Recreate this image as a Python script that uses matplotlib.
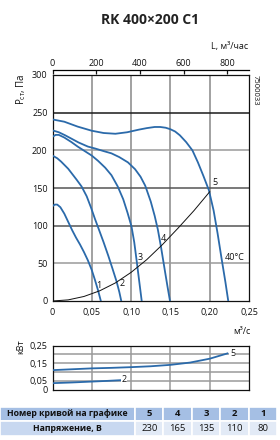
import matplotlib
matplotlib.use('Agg')
import matplotlib.pyplot as plt
from matplotlib.ticker import FixedLocator, FuncFormatter

plt.rcParams['font.family'] = ['Open Sans', 'DejaVu Sans']
plt.rcParams['mathtext.fontset'] = 'custom'
plt.rcParams['mathtext.rm'] = 'Open Sans'

# ---- data (Q in m3/s, P in Pa) ----
q5 = [0, 0.015, 0.032, 0.05, 0.065, 0.08, 0.095, 0.11, 0.12, 0.13, 0.137, 0.144, 0.15, 0.156, 0.162, 0.17, 0.178, 0.185, 0.192, 0.199, 0.205, 0.21, 0.215, 0.22, 0.2236]
p5 = [241, 238, 231.5, 226, 223, 222, 224, 227.5, 229.5, 231, 231, 230, 228, 225, 220, 211, 200, 184, 166, 147, 120, 90, 57, 25, 0]

q4 = [0, 0.008, 0.016, 0.025, 0.033, 0.045, 0.054, 0.065, 0.075, 0.085, 0.096, 0.105, 0.112, 0.118, 0.125, 0.13, 0.134, 0.138, 0.143, 0.1465, 0.1495]
p4 = [226.5, 224, 220, 215, 210.5, 205, 202.5, 199, 196, 191, 184, 175, 165, 153, 132, 113, 95, 72, 40, 18, 0]

q3 = [0, 0.004, 0.008, 0.015, 0.024, 0.032, 0.041, 0.05, 0.058, 0.067, 0.075, 0.083, 0.09, 0.0955, 0.1005, 0.104, 0.107, 0.110, 0.1135]
p3 = [218, 220.5, 220.5, 217, 211, 205, 199, 193, 186, 177, 167, 152, 135, 117, 99, 78, 54, 29, 0]

q2 = [0, 0.006, 0.011, 0.02, 0.0307, 0.037, 0.0435, 0.049, 0.054, 0.059, 0.065, 0.071, 0.076, 0.0815, 0.085, 0.0875]
p2 = [193, 189.5, 185, 175.5, 161, 152, 139, 124, 109, 95, 78, 60, 44, 26, 12, 0]

q1 = [0, 0.003, 0.006, 0.01, 0.015, 0.02, 0.025, 0.03, 0.035, 0.04, 0.045, 0.05, 0.054, 0.058, 0.0615]
p1 = [126, 128, 128, 124.5, 116, 105, 94, 84, 75, 65, 54, 41, 28, 14, 0]

sys_q = [0, 0.02, 0.04, 0.06, 0.08, 0.10, 0.12, 0.14, 0.16, 0.18, 0.20]
sys_p = [0, 1.5, 6, 13.5, 24, 38, 55, 75, 97, 120, 145]

# power (kW)
pw5_q = [0, 0.025, 0.05, 0.075, 0.10, 0.125, 0.15, 0.175, 0.20, 0.2225]
pw5 = [0.110, 0.115, 0.120, 0.123, 0.127, 0.132, 0.140, 0.153, 0.175, 0.205]
pw2_q = [0, 0.025, 0.05, 0.07, 0.087]
pw2 = [0.036, 0.040, 0.045, 0.049, 0.053]

curve_nums = ['5', '4', '3', '2', '1']
voltages = ['230', '165', '135', '110', '80']

x_ticks = [0, 0.05, 0.10, 0.15, 0.20, 0.25]
y_ticks = [0, 50, 100, 150, 200, 250, 300]
top_ticks = [0, 200, 400, 600, 800]
pw_ticks = [0, 0.05, 0.15, 0.25]

BLUE = '#2b6aaa'
W, H = 280, 440
fig = plt.figure(figsize=(W / 100, H / 100), dpi=100)


def rect(l, t, r, b):
    return [l / W, 1 - b / H, (r - l) / W, (b - t) / H]


def comma(v, pos=None):
    s = ('%.2f' % v) if v != 0 else '0'
    return s.replace('.', ',')


fig.text(150 / W, 1 - 20 / H, 'RK 400×200 C1', ha='center', va='center',
         fontsize=10, fontweight='bold', color='#222')

ax = fig.add_axes(rect(52.5, 75, 249, 301))
ax.set_xlim(0, 0.25)
ax.set_ylim(0, 300)
for v in [0.05, 0.10, 0.15, 0.20]:
    ax.axvline(v, color='#9a9a9a', lw=1.3, zorder=1)
for v, c in [(50, '#9a9a9a'), (100, '#555555'), (150, '#555555'), (200, '#9a9a9a'), (250, '#1a1a1a')]:
    ax.axhline(v, color=c, lw=1.1, zorder=1)

for q, p in [(q5, p5), (q4, p4), (q3, p3), (q2, p2), (q1, p1)]:
    ax.plot(q, p, color=BLUE, lw=1.3, zorder=3, solid_joinstyle='round')
ax.plot(sys_q, sys_p, color='#111', lw=0.7, zorder=4)

lab_kw = dict(fontsize=6.5, color='#111', zorder=5)
ax.text(0.0583, 20, '1', ha='center', va='center', **lab_kw)
ax.text(0.088, 23.5, '2', ha='center', va='center', **lab_kw)
ax.text(0.112, 58, '3', ha='center', va='center', **lab_kw)
ax.text(0.141, 83, '4', ha='center', va='center', **lab_kw)
ax.text(0.2065, 157, '5', ha='center', va='center', **lab_kw)
ax.text(0.2195, 57.5, '40°C', ha='left', va='center', **lab_kw)

ax.xaxis.set_major_locator(FixedLocator(x_ticks))
ax.xaxis.set_major_formatter(FuncFormatter(comma))
ax.yaxis.set_major_locator(FixedLocator(y_ticks))
ax.tick_params(axis='both', length=0, labelsize=6.5, colors='#111')
ax.tick_params(axis='x', pad=5)
ax.tick_params(axis='y', pad=3.5)
for s in ax.spines.values():
    s.set_linewidth(0.9)
    s.set_color('#111')

sec = ax.secondary_xaxis('top', functions=(lambda q: q * 3600, lambda l: l / 3600))
sec.xaxis.set_major_locator(FixedLocator(top_ticks))
sec.spines['top'].set_position(('outward', 3.6))
sec.spines['top'].set_linewidth(0.9)
sec.tick_params(direction='in', length=3, width=0.9, labelsize=6.5, pad=1.5, colors='#111')

fig.text(248 / W, 1 - 46 / H, 'L, м³/час', ha='right', va='center', fontsize=6.5, color='#111')
fig.text(255 / W, 1 - 75 / H, '7500033', ha='center', va='top', rotation=-90, fontsize=5.5, color='#111')
fig.text(21 / W, 1 - 73 / H, r'$\mathregular{P_{ст}}$, Па', ha='center', va='top', rotation=90,
         fontsize=7, color='#111')
fig.text(250 / W, 1 - 331 / H, 'м³/с', ha='right', va='center', fontsize=6.5, color='#111')

# power axes
axp = fig.add_axes(rect(52.5, 345.5, 249, 389.5))
axp.set_xlim(0, 0.25)
axp.set_ylim(0, 0.25)
for v in [0.05, 0.10, 0.15, 0.20]:
    axp.axvline(v, color='#9a9a9a', lw=1.1, zorder=1)
    axp.axhline(v, color='#9a9a9a', lw=1.1, zorder=1)
axp.plot(pw5_q, pw5, color=BLUE, lw=1.3, zorder=3)
axp.plot(pw2_q, pw2, color=BLUE, lw=1.3, zorder=3)
axp.text(0.229, 0.205, '5', ha='center', va='center', fontsize=6.5, color='#111', zorder=5,
         bbox=dict(facecolor='white', edgecolor='none', pad=0.3))
axp.text(0.091, 0.055, '2', ha='center', va='center', fontsize=6.5, color='#111', zorder=5,
         bbox=dict(facecolor='white', edgecolor='none', pad=0.3))
axp.xaxis.set_major_locator(FixedLocator([0.05, 0.10, 0.15, 0.20]))
axp.set_xticklabels([])
axp.yaxis.set_major_locator(FixedLocator(pw_ticks))
axp.yaxis.set_major_formatter(FuncFormatter(comma))
axp.tick_params(axis='both', length=0, labelsize=6.5, colors='#111', pad=3.5)
for s in axp.spines.values():
    s.set_linewidth(0.9)
    s.set_color('#111')
fig.text(21 / W, 1 - 347 / H, 'кВт', ha='center', va='center', rotation=90, fontsize=6.5, color='#111')

# table
tab = fig.add_axes(rect(0, 406.5, 277, 435.5))
tab.axis('off')
col_w = [135] + [28.4] * 5
cells = [['Номер кривой на графике'] + curve_nums, ['Напряжение, В'] + voltages]
tbl = tab.table(cellText=cells, colWidths=[w / sum(col_w) for w in col_w],
                bbox=[0, 0, 1, 1], cellLoc='center')
tbl.auto_set_font_size(False)
for (r, c), cell in tbl.get_celld().items():
    cell.set_edgecolor('white')
    cell.set_linewidth(1.2)
    if r == 0:
        cell.set_facecolor('#a5bfe4')
    elif c == 0:
        cell.set_facecolor('#c8d8f0')
    else:
        cell.set_facecolor('#e2eaf6')
    t = cell.get_text()
    t.set_fontsize(6.3 if c == 0 else 6.8)
    t.set_color('#111')
    if r == 0 or c == 0:
        t.set_fontweight('bold')

fig.savefig('out.png', dpi=100)
